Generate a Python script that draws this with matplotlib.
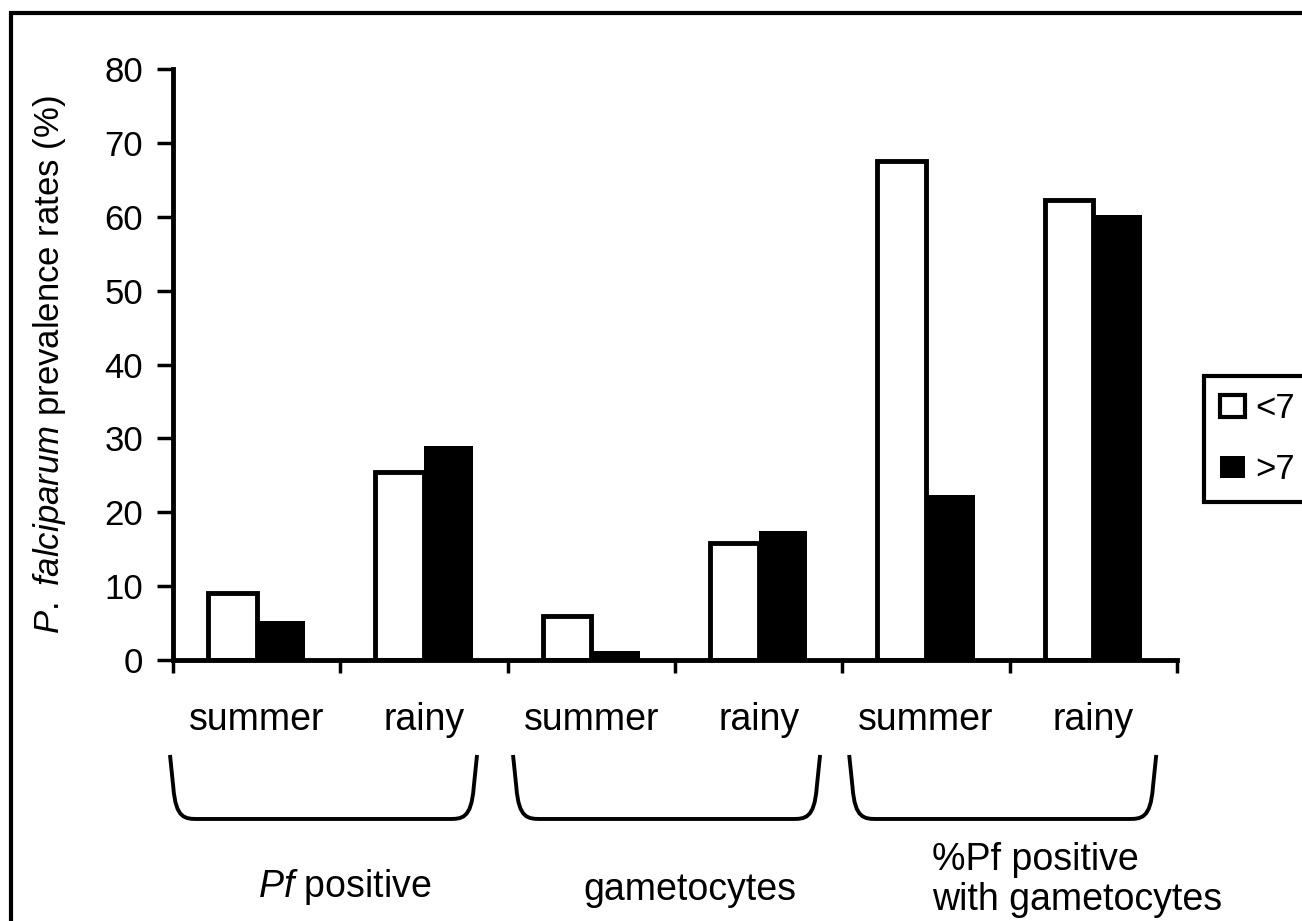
import matplotlib
matplotlib.use("Agg")
import matplotlib.pyplot as plt
import numpy as np
from matplotlib.patches import Patch, Rectangle, PathPatch
from matplotlib.path import Path
from matplotlib.transforms import blended_transform_factory

plt.rcParams['font.family'] = ['Liberation Sans', 'DejaVu Sans']
plt.rcParams['mathtext.fontset'] = 'custom'
plt.rcParams['mathtext.rm'] = 'Liberation Sans'
plt.rcParams['mathtext.it'] = 'Liberation Sans:italic'

# values
seasons = ["summer", "rainy", "summer", "rainy", "summer", "rainy"]
under7 = [9.1, 25.5, 6.0, 15.8, 67.5, 62.2]
over7 = [5.3, 29.0, 1.2, 17.5, 22.3, 60.3]
series_labels = ["<7", ">7"]
groups = ["$\\it{Pf}$ positive", "gametocytes", "%Pf positive\nwith gametocytes"]
yticks = list(range(0, 90, 10))

W, H = 1302, 921
fig = plt.figure(figsize=(W / 100, H / 100), dpi=100)
ax = fig.add_axes([173 / W, 1 - 660 / H, (1177 - 173) / W, (660 - 69) / H])

x = np.arange(len(seasons))
bw = 0.29
ax.bar(x - bw / 2, under7, bw, facecolor="white", edgecolor="black", linewidth=3.5)
ax.bar(x + bw / 2, over7, bw, facecolor="black", edgecolor="black", linewidth=0)

ax.set_xlim(-0.5, len(seasons) - 0.5)
ax.set_ylim(0, 80)
ax.set_yticks(yticks)
ax.set_xticks(np.arange(-0.5, len(seasons), 1.0))
ax.set_xticklabels([])
for s in ["top", "right"]:
    ax.spines[s].set_visible(False)
for s in ["left", "bottom"]:
    ax.spines[s].set_linewidth(3.5)
ax.tick_params(axis="y", direction="out", length=11.5, width=2.5, pad=10, labelsize=25)
ax.tick_params(axis="x", direction="out", length=9.5, width=2.5)

ax.set_ylabel("$\\it{P.\\ falciparum}$ prevalence rates (%)", fontsize=25, labelpad=26)

tr = blended_transform_factory(ax.transData, ax.transAxes)
for i, s in enumerate(seasons):
    ax.text(i, -0.1015, s, transform=tr, ha="center", va="center", fontsize=27)

# brackets under each pair
top, bot = -0.1607, -0.269
spans = [(-0.518, 1.317), (1.532, 3.367), (3.541, 5.376)]
for (l, r) in spans:
    c = 0.17
    verts = [(l, top), (l + 0.02, top - 0.055),
             (l + 0.035, bot), (l + 0.09, bot), (l + c, bot),
             (r - c, bot),
             (r - 0.09, bot), (r - 0.035, bot), (r - 0.02, top - 0.055),
             (r, top)]
    codes = [Path.MOVETO, Path.LINETO,
             Path.CURVE4, Path.CURVE4, Path.CURVE4,
             Path.LINETO,
             Path.CURVE4, Path.CURVE4, Path.CURVE4,
             Path.LINETO]
    ax.add_patch(PathPatch(Path(verts, codes), transform=tr, fill=False,
                           lw=2.8, edgecolor="black", clip_on=False))

ax.text(0.528, -0.384, groups[0], transform=tr, ha="center", va="center", fontsize=27)
ax.text(2.59, -0.389, groups[1], transform=tr, ha="center", va="center", fontsize=27)
ax.text(4.037, -0.372, groups[2], transform=tr, ha="left", va="center",
        fontsize=27, linespacing=1.15)

handles = [Patch(facecolor="white", edgecolor="black", linewidth=3),
           Patch(facecolor="black", edgecolor="black", linewidth=0)]
leg = fig.legend(handles, series_labels, loc="center left",
                 bbox_to_anchor=(1204 / W, 1 - 439 / H), borderaxespad=0,
                 fontsize=25, frameon=True, fancybox=False, framealpha=1,
                 edgecolor="black", handlelength=0.72, handleheight=0.6,
                 handletextpad=0.3, labelspacing=0.8, borderpad=0.45)
leg.get_frame().set_linewidth(3)

# outer frame (cut off at the right and bottom of the image)
fig.patches.append(Rectangle((11 / W, -0.1), 1.2, 1 - 13 / H + 0.1,
                             transform=fig.transFigure, fill=False,
                             edgecolor="black", linewidth=3))

fig.savefig("out.png", dpi=100)
